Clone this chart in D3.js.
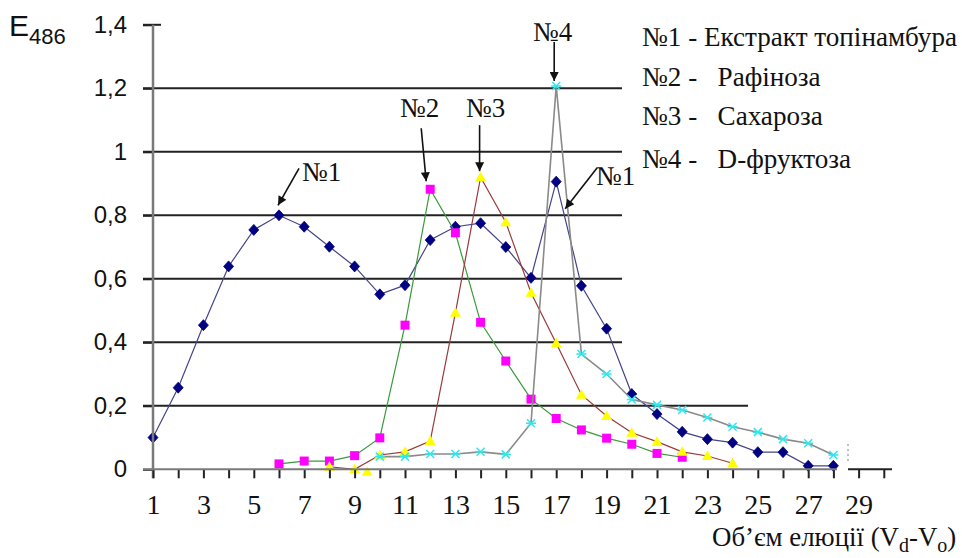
<!DOCTYPE html>
<html>
<head>
<meta charset="utf-8">
<script src="https://cdn.jsdelivr.net/npm/d3@7"></script>
<style>
  html, body { margin: 0; padding: 0; background: #fff; }
  svg { display: block; }
</style>
</head>
<body>
<svg id="chart" width="962" height="558"></svg>
<script>
// ---------------- DATA ----------------
const xTickValues = [1,2,3,4,5,6,7,8,9,10,11,12,13,14,15,16,17,18,19,20,21,22,23,24,25,26,27,28,29,30];
const xTickLabels = ["1","","3","","5","","7","","9","","11","","13","","15","","17","","19","","21","","23","","25","","27","","29",""];
const yTickValues = [0, 0.2, 0.4, 0.6, 0.8, 1.0, 1.2, 1.4];
const yTickLabels = ["0", "0,2", "0,4", "0,6", "0,8", "1", "1,2", "1,4"];

// №1 - Екстракт топінамбура
const extractX = [1,2,3,4,5,6,7,8,9,10,11,12,13,14,15,16,17,18,19,20,21,22,23,24,25,26,27,28];
const extractY = [0.10,0.257,0.454,0.639,0.754,0.80,0.764,0.701,0.639,0.551,0.58,0.722,0.764,0.775,0.70,0.603,0.906,0.578,0.443,0.237,0.174,0.118,0.095,0.084,0.054,0.054,0.011,0.011];
// №2 - Рафіноза
const raffinoseX = [6,7,8,9,10,11,12,13,14,15,16,17,18,19,20,21,22];
const raffinoseY = [0.017,0.026,0.026,0.043,0.099,0.454,0.882,0.745,0.463,0.341,0.221,0.16,0.124,0.098,0.079,0.05,0.038];
// №3 - Сахароза
const sucroseX = [8,9,10,11,12,13,14,15,16,17,18,19,20,21,22,23,24];
const sucroseY = [0.008,0.0,0.045,0.055,0.089,0.493,0.92,0.778,0.556,0.397,0.235,0.168,0.115,0.087,0.055,0.042,0.019];
const sucroseExtraX = [9.5];
const sucroseExtraY = [-0.008];
// №4 - D-фруктоза
const fructoseX = [10,11,12,13,14,15,16,17,18,19,20,21,22,23,24,25,26,27,28];
const fructoseY = [0.04,0.04,0.048,0.048,0.055,0.047,0.145,1.207,0.363,0.30,0.22,0.203,0.187,0.163,0.134,0.117,0.095,0.082,0.045];

const legendLabels = ["№1 - Екстракт топінамбура", "№2 -   Рафіноза", "№3 -   Сахароза", "№4 -   D-фруктоза"];
const yTitle = "E";
const yTitleSub = "486";

// --------------- LAYOUT ---------------
const svg = d3.select("#chart");
const X0 = 153, XUNIT = 25.2;
const x = d3.scaleLinear().domain([1, 30]).range([X0, X0 + 29 * XUNIT]);
const y = d3.scaleLinear().domain([0, 1.4]).range([469.3, 24.8]);

const SANS = "'Liberation Sans', Arial, sans-serif";
const SERIF = "'Liberation Serif', 'Times New Roman', serif";

// gridlines (lengths as in the reference)
const gridEnds = {0.2: 748, 0.4: 622, 0.6: 622, 0.8: 622, 1.0: 622, 1.2: 622};
const grid = svg.append("g");
yTickValues.filter(v => v > 0 && v < 1.4).forEach(v => {
  grid.append("line")
    .attr("x1", x(1) - 10).attr("x2", gridEnds[v])
    .attr("y1", y(v)).attr("y2", y(v))
    .attr("stroke", "#222").attr("stroke-width", 2);
});

// ------------- SERIES -------------
const series = [
  {xs: extractX, ys: extractY, line: "#44448a", fill: "#000080", marker: "diamond", lw: 1.2},
  {xs: raffinoseX, ys: raffinoseY, line: "#3a9a3a", fill: "#ff00ff", marker: "square", lw: 1.2},
  {xs: sucroseX, ys: sucroseY, line: "#9a3a3a", fill: "#ffff00", marker: "triangle", lw: 1.2},
  {xs: fructoseX, ys: fructoseY, line: "#8a8a8a", fill: "#33e6ee", marker: "star", lw: 1.6}
];
const lineGen = d3.line().x(d => x(d[0])).y(d => y(d[1]));

function drawMarker(g, kind, px, py, color) {
  if (kind === "diamond") {
    g.append("path").attr("d", `M${px},${py-5.5}L${px+5},${py}L${px},${py+5.5}L${px-5},${py}Z`)
      .attr("fill", color).attr("stroke", color).attr("stroke-width", 0.8);
  } else if (kind === "square") {
    g.append("rect").attr("x", px - 4.5).attr("y", py - 4.5).attr("width", 9).attr("height", 9)
      .attr("fill", color);
  } else if (kind === "triangle") {
    g.append("path").attr("d", `M${px},${py-5.5}L${px+5.5},${py+4}L${px-5.5},${py+4}Z`)
      .attr("fill", color);
  } else {
    const r = 4;
    g.append("path")
      .attr("d", `M${px-r},${py-r}L${px+r},${py+r}M${px-r},${py+r}L${px+r},${py-r}M${px-r-1},${py}L${px+r+1},${py}`)
      .attr("stroke", color).attr("stroke-width", 1.5).attr("fill", "none");
  }
}

series.forEach(s => {
  const pts = s.xs.map((v, i) => [v, s.ys[i]]);
  const g = svg.append("g");
  g.append("path").attr("d", lineGen(pts)).attr("fill", "none")
    .attr("stroke", s.line).attr("stroke-width", s.lw);
  pts.forEach(p => drawMarker(g, s.marker, x(p[0]), y(p[1]), s.fill));
});
sucroseExtraX.forEach((v, i) => drawMarker(svg.append("g"), "triangle", x(v), y(sucroseExtraY[i]), "#ffff00"));

// Y axis
const yAxis = d3.axisLeft(y).tickValues(yTickValues)
  .tickFormat((d, i) => yTickLabels[i]).tickSize(10).tickPadding(16);
const gy = svg.append("g").attr("transform", `translate(${x(1)},0)`).call(yAxis);
gy.select(".domain").remove();
gy.selectAll(".tick line").attr("stroke", "#222").attr("stroke-width", 2);
gy.selectAll(".tick text").style("font-family", SANS).style("font-size", "24px").attr("fill", "#111");
svg.append("line").attr("x1", x(1) - 10).attr("x2", x(1) + 8)
  .attr("y1", y(1.4)).attr("y2", y(1.4)).attr("stroke", "#222").attr("stroke-width", 2);
svg.append("line").attr("x1", x(1)).attr("x2", x(1))
  .attr("y1", y(1.4)).attr("y2", y(0) + 9)
  .attr("stroke", "#7a7a7a").attr("stroke-width", 2.5);

// X axis
const xAxis = d3.axisBottom(x).tickValues(xTickValues)
  .tickFormat((d, i) => xTickLabels[i]).tickSize(9).tickPadding(0);
const gx = svg.append("g").attr("transform", `translate(0,${y(0)})`).call(xAxis);
gx.select(".domain").remove();
gx.selectAll(".tick line").attr("stroke", "#222").attr("stroke-width", 2);
gx.selectAll(".tick text").style("font-family", SERIF).style("font-size", "28px")
  .attr("fill", "#111").attr("y", 45).attr("dy", 0);
svg.append("line").attr("x1", x(1) - 10).attr("x2", 837)
  .attr("y1", y(0)).attr("y2", y(0)).attr("stroke", "#7a7a7a").attr("stroke-width", 2);
svg.append("line").attr("x1", 848).attr("x2", 892)
  .attr("y1", y(0)).attr("y2", y(0)).attr("stroke", "#222").attr("stroke-width", 2);
svg.append("line").attr("x1", 848).attr("x2", 848)
  .attr("y1", 444).attr("y2", 462).attr("stroke", "#aaa")
  .attr("stroke-width", 1.5).attr("stroke-dasharray", "2,3");

// ------------- ANNOTATIONS -------------
const defs = svg.append("defs");
defs.append("marker").attr("id", "ah").attr("viewBox", "0 0 10 10")
  .attr("refX", 10).attr("refY", 5).attr("markerWidth", 14).attr("markerHeight", 9)
  .attr("markerUnits", "userSpaceOnUse").attr("orient", "auto")
  .append("path").attr("d", "M0,0L10,5L0,10Z").attr("fill", "#111");

const annotations = [
  {label: "№1", xs: extractX, ys: extractY, i: 5, s: [20, -47], t: [-1, -10], tx: 302, ty: 181},
  {label: "№2", xs: raffinoseX, ys: raffinoseY, i: 6, s: [-9, -61], t: [-4, -8], tx: 400, ty: 117},
  {label: "№3", xs: sucroseX, ys: sucroseY, i: 6, s: [-1, -52], t: [-1, -6], tx: 466, ty: 117},
  {label: "№4", xs: fructoseX, ys: fructoseY, i: 7, s: [-2, -44], t: [-2, -5], tx: 533, ty: 41},
  {label: "№1", xs: extractX, ys: extractY, i: 16, s: [41, -14], t: [9, 27], tx: 596, ty: 185}
];
annotations.forEach(a => {
  const px = x(a.xs[a.i]), py = y(a.ys[a.i]);
  svg.append("line")
    .attr("x1", px + a.s[0]).attr("y1", py + a.s[1])
    .attr("x2", px + a.t[0]).attr("y2", py + a.t[1])
    .attr("stroke", "#111").attr("stroke-width", 1.6).attr("marker-end", "url(#ah)");
  svg.append("text").attr("x", a.tx).attr("y", a.ty).text(a.label)
    .style("font-family", SERIF).style("font-size", "27px").attr("fill", "#111");
});

// ------------- LEGEND -------------
const legendY = [46, 86, 125, 168];
const legendTexts = legendLabels.map((t, i) =>
  svg.append("text").attr("x", 642).attr("y", legendY[i]).text(t)
    .attr("xml:space", "preserve")
    .style("white-space", "pre")
    .style("font-family", SERIF).style("font-size", "22px").attr("fill", "#111"));
// fit font size so the first line spans the same width as in the reference
const w0 = legendTexts[0].node().getComputedTextLength();
const legendSize = 22 * 315 / w0;
legendTexts.forEach(t => t.style("font-size", legendSize + "px"));

// ------------- AXIS TITLES -------------
const yt = svg.append("text").attr("x", 9).attr("y", 36)
  .style("font-family", SANS).style("font-size", "30px").attr("fill", "#111");
yt.append("tspan").text(yTitle);
yt.append("tspan").attr("dy", 8).style("font-size", "22px").text(yTitleSub);

const xt = svg.append("text").attr("x", 712).attr("y", 546)
  .style("font-family", SERIF).style("font-size", "26px").attr("fill", "#111");
xt.append("tspan").text("Об’єм елюції (V");
xt.append("tspan").attr("dy", 6).style("font-size", "20px").text("d");
xt.append("tspan").attr("dy", -6).text("-V");
xt.append("tspan").attr("dy", 6).style("font-size", "20px").text("o");
xt.append("tspan").attr("dy", -6).text(")");
const xtw = xt.node().getComputedTextLength();
xt.style("font-size", (26 * 245 / xtw) + "px");
</script>
</body>
</html>
